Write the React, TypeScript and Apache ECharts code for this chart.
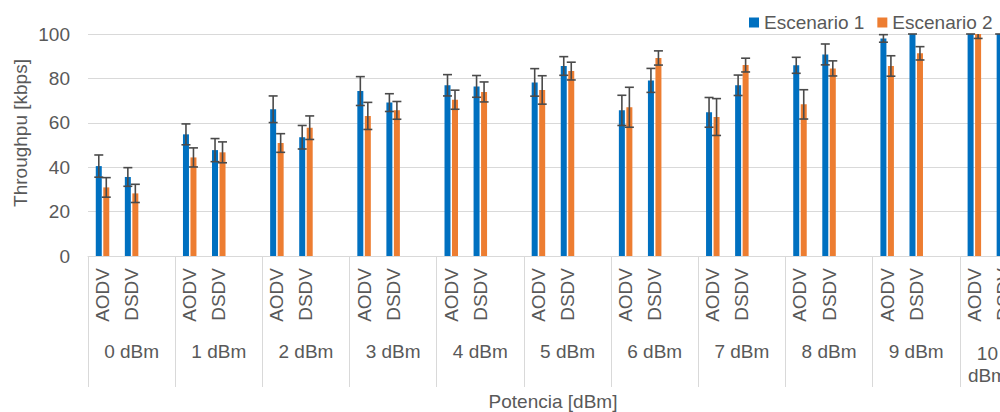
import React, { useEffect, useRef } from "react";
import * as echarts from "echarts";

const groups = ["0 dBm", "1 dBm", "2 dBm", "3 dBm", "4 dBm", "5 dBm", "6 dBm", "7 dBm", "8 dBm", "9 dBm", "10 dBm"];
const protocols = ["AODV", "DSDV"];
const yTicks = [0, 20, 40, 60, 80, 100];

// Escenario 1
const s1Aodv = [40.5, 54.8, 66.1, 74.3, 76.9, 78.2, 65.6, 64.7, 85.9, 98, 102.5];
const s1Dsdv = [35.6, 47.7, 53.5, 69.1, 76.4, 85.6, 79.1, 76.9, 90.8, 102.5, 102.5];
const s1AodvErr = [5, 4.7, 6, 6.5, 4.8, 6.2, 6.8, 6.7, 3.6, 1.7, 2.5];
const s1DsdvErr = [4.2, 5.2, 5.3, 4, 4.9, 4.2, 5.4, 4.6, 4.7, 2.5, 2.5];
// Escenario 2
const s2Aodv = [30.9, 44.4, 50.9, 63.1, 70.4, 74.8, 67, 62.6, 68.3, 85.6, 100.5];
const s2Dsdv = [28.2, 46.7, 57.8, 65.6, 73.9, 83.3, 89.2, 86, 84.5, 91.3, 96];
const s2AodvErr = [4.4, 4.3, 4.2, 6.1, 4.3, 6.4, 9, 8.3, 6.6, 4.6, 2.5];
const s2DsdvErr = [4.1, 4.7, 5.3, 4, 4.5, 4, 3.2, 3.1, 3.4, 3, 3];

const BLUE = "#0070C0";
const ORANGE = "#ED7D31";
const ERR = "#4a4a4a";
const TXT = "#595959";
const GRIDC = "#d9d9d9";
const FONT = "'Liberation Sans', Arial, sans-serif";
const FS = 19;

function buildLeaves() {
  const leaves: string[] = [];
  groups.forEach(() => {
    protocols.forEach((p) => leaves.push(p));
    leaves.push("");
  });
  return leaves;
}

function buildValues(a: number[], d: number[]) {
  const out: (number | null)[] = [];
  groups.forEach((_, i) => {
    out.push(a[i], d[i], null);
  });
  return out;
}

function buildErr(a: number[], d: number[], ae: number[], de: number[]) {
  const out: number[][] = [];
  groups.forEach((_, i) => {
    out.push([i * 3, a[i] - ae[i], a[i] + ae[i]]);
    out.push([i * 3 + 1, d[i] - de[i], d[i] + de[i]]);
  });
  return out;
}

const makeErr = (offset: number) => (params: any, api: any) => {
  const idx = api.value(0);
  const lo = api.value(1);
  const hi = api.value(2);
  const pLo = api.coord([idx, lo]);
  const pHi = api.coord([idx, hi]);
  const cs = params.coordSys;
  const top = cs.y;
  const bottom = cs.y + cs.height;
  const x = pLo[0] + offset;
  const yLo = Math.min(Math.max(pLo[1], top), bottom);
  const yHi = Math.min(Math.max(pHi[1], top), bottom);
  const st = { stroke: ERR, lineWidth: 1.6 };
  const cap = 4.5;
  const children: any[] = [
    { type: "line", shape: { x1: x, y1: yHi, x2: x, y2: yLo }, style: st },
  ];
  if (pHi[1] >= top - 0.5) children.push({ type: "line", shape: { x1: x - cap, y1: pHi[1], x2: x + cap, y2: pHi[1] }, style: st });
  if (pLo[1] >= top - 0.5) children.push({ type: "line", shape: { x1: x - cap, y1: pLo[1], x2: x + cap, y2: pLo[1] }, style: st });
  return { type: "group", children };
};

export default function App() {
  const ref = useRef<HTMLDivElement>(null);
  useEffect(() => {
    if (!ref.current) return;
    const chart = echarts.init(ref.current, undefined, { renderer: "svg" });
    const leaves = buildLeaves();
    const option: any = {
      animation: false,
      backgroundColor: "#ffffff",
      textStyle: { fontFamily: FONT },
      legend: {
        left: 744,
        top: 8,
        itemWidth: 10,
        itemHeight: 10,
        itemGap: 13,
        icon: "rect",
        textStyle: { fontSize: FS, color: TXT, fontFamily: FONT },
        data: ["Escenario 1", "Escenario 2"],
      },
      grid: { left: 88, top: 34, width: 959, height: 222 },
      xAxis: [
        {
          type: "category",
          position: "bottom",
          data: leaves,
          axisLine: { show: true, lineStyle: { color: GRIDC, width: 1 } },
          axisTick: { show: false },
          axisLabel: { interval: 0, rotate: 90, margin: 12, fontSize: FS, color: TXT, fontFamily: FONT },
        },
        {
          type: "category",
          position: "bottom",
          offset: 0,
          data: groups,
          axisLine: { show: false },
          axisTick: { show: true, interval: 0, length: 131, lineStyle: { color: GRIDC, width: 1 } },
          axisLabel: {
            interval: 0,
            margin: 86,
            fontSize: FS,
            color: TXT,
            fontFamily: FONT,
            formatter: (v: string) => (v === "10 dBm" ? "{w|10}\n{w|dBm}" : v),
            rich: { w: { fontSize: FS, color: TXT, fontFamily: FONT, padding: [0, 32, 0, 0], lineHeight: 22 } },
          },
        },
      ],
      yAxis: {
        type: "value",
        min: 0,
        max: 100,
        interval: 20,
        axisLine: { show: false },
        axisTick: { show: false },
        splitLine: { lineStyle: { color: GRIDC, width: 1 } },
        axisLabel: {
          margin: 18,
          fontSize: FS,
          color: TXT,
          fontFamily: FONT,
          formatter: (v: number) => (yTicks.includes(v) ? String(v) : ""),
        },
      },
      series: [
        {
          name: "Escenario 1",
          type: "bar",
          xAxisIndex: 0,
          barWidth: 6,
          barGap: "25%",
          itemStyle: { color: BLUE },
          data: buildValues(s1Aodv, s1Dsdv),
        },
        {
          name: "Escenario 2",
          type: "bar",
          xAxisIndex: 0,
          barWidth: 6,
          barGap: "25%",
          itemStyle: { color: ORANGE },
          data: buildValues(s2Aodv, s2Dsdv),
        },
        {
          type: "custom",
          xAxisIndex: 0,
          renderItem: makeErr(-3.75),
          encode: { x: 0, y: [1, 2] },
          data: buildErr(s1Aodv, s1Dsdv, s1AodvErr, s1DsdvErr),
          z: 10,
        },
        {
          type: "custom",
          xAxisIndex: 0,
          renderItem: makeErr(3.75),
          encode: { x: 0, y: [1, 2] },
          data: buildErr(s2Aodv, s2Dsdv, s2AodvErr, s2DsdvErr),
          z: 10,
        },
      ],
      graphic: [
        {
          type: "text",
          x: 20,
          y: 133,
          rotation: Math.PI / 2,
          style: { text: "Throughpu [kbps]", fontSize: FS, fill: TXT, fontFamily: FONT, align: "center", verticalAlign: "middle" },
        },
        {
          type: "text",
          x: 553,
          y: 401,
          style: { text: "Potencia [dBm]", fontSize: FS, fill: TXT, fontFamily: FONT, align: "center", verticalAlign: "middle" },
        },
      ],
    };
    chart.setOption(option);
    return () => chart.dispose();
  }, []);
  return (
    <div style={{ position: "absolute", left: 0, top: 0, width: 1000, height: 412, overflow: "hidden", background: "#fff" }}>
      <div ref={ref} style={{ width: 1100, height: 412 }} />
    </div>
  );
}
